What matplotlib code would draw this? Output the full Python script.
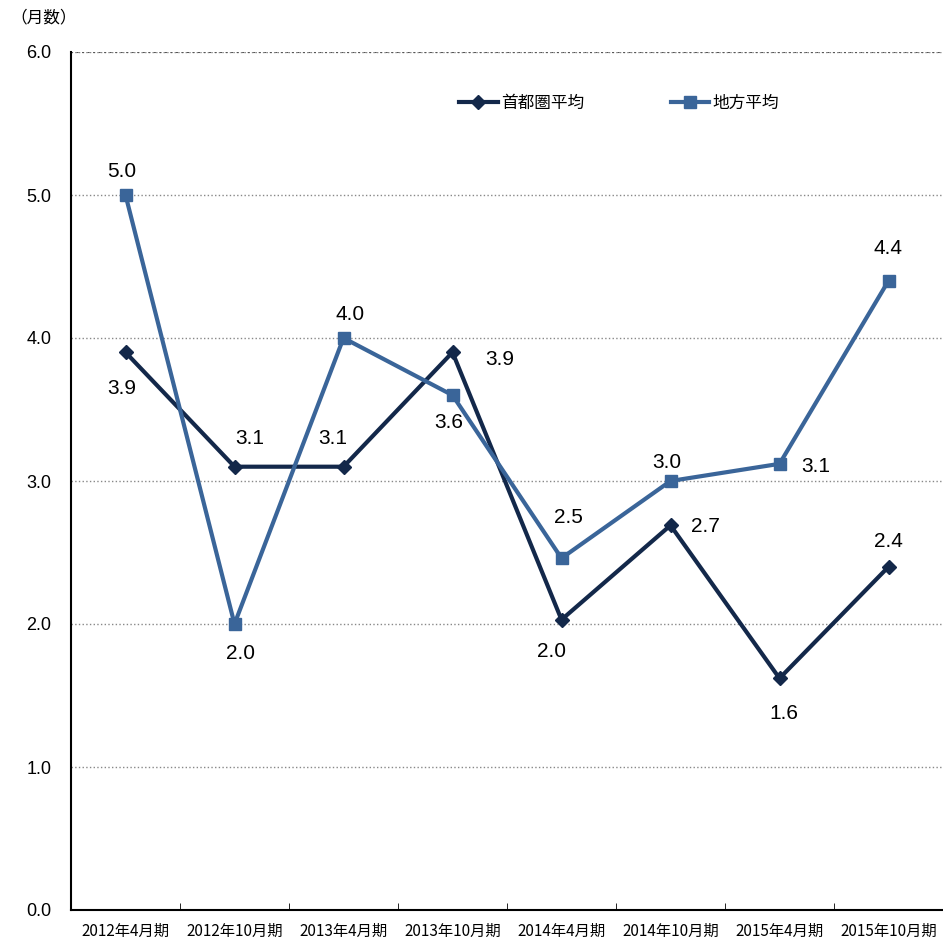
import matplotlib.pyplot as plt
import numpy as np

plt.rcParams['font.family'] = ['Noto Sans CJK JP', 'DejaVu Sans']

periods = ["2012年4月期", "2012年10月期", "2013年4月期", "2013年10月期",
           "2014年4月期", "2014年10月期", "2015年4月期", "2015年10月期"]
shutoken = [3.9, 3.1, 3.1, 3.9, 2.03, 2.69, 1.62, 2.4]
chihou = [5.0, 2.0, 4.0, 3.6, 2.46, 3.0, 3.12, 4.4]
shutoken_labels = ["3.9", "3.1", "3.1", "3.9", "2.0", "2.7", "1.6", "2.4"]
chihou_labels = ["5.0", "2.0", "4.0", "3.6", "2.5", "3.0", "3.1", "4.4"]

# label offsets in points (dx, dy)
shutoken_off = [(-3, -26), (11, 20), (-8, 20), (34, -5), (-7, -23), (25, -1), (3, -25), (0, 18)]
chihou_off = [(-3, 17), (4, -21), (5, 17), (-3, -20), (5, 29), (-3, 13), (26, -2), (0, 23)]

c_shu = "#13284a"
c_chi = "#3a6599"

fig = plt.figure(figsize=(9.43, 9.40), dpi=100)
ax = fig.add_axes([71 / 943, 30 / 940, 872 / 943, 858 / 940])

x = np.arange(len(periods))
ax.plot(x, shutoken, color=c_shu, lw=3, marker="D", ms=7, label="首都圏平均", zorder=3)
ax.plot(x, chihou, color=c_chi, lw=3, marker="s", ms=9, label="地方平均", zorder=3)

for i in range(len(x)):
    ax.annotate(shutoken_labels[i], (x[i], shutoken[i]), xytext=shutoken_off[i],
                textcoords="offset points", ha="center", va="center",
                fontsize=15, family=["Liberation Sans", "DejaVu Sans"])
    ax.annotate(chihou_labels[i], (x[i], chihou[i]), xytext=chihou_off[i],
                textcoords="offset points", ha="center", va="center",
                fontsize=15, family=["Liberation Sans", "DejaVu Sans"])

ax.set_xlim(-0.5, len(periods) - 0.5)
ax.set_ylim(0, 6)
ax.set_yticks(np.arange(0, 6.1, 1.0))
ax.set_yticklabels([f"{v:.1f}" for v in np.arange(0, 6.1, 1.0)],
                   fontsize=13, family=["Liberation Sans", "DejaVu Sans"])
ax.tick_params(axis="y", length=0, pad=14)
ax.set_xticks(x)
ax.set_xticklabels(periods, fontsize=11)
ax.set_xticks(np.arange(0.5, len(periods) - 0.5, 1.0), minor=True)
ax.tick_params(axis="x", which="major", length=0, pad=9)
ax.tick_params(axis="x", which="minor", length=5, direction="in")

ax.grid(axis="y", linestyle=":", color="#888888", lw=1)
ax.spines["right"].set_visible(False)
ax.spines["top"].set_visible(False)
ax.spines["left"].set_linewidth(1.5)
ax.spines["bottom"].set_linewidth(1.5)
ax.axhline(6, color="#555555", lw=1.5, linestyle=":")

ax.legend(loc="center left", bbox_to_anchor=(0.428, 0.94), ncol=2, frameon=False,
          fontsize=12, columnspacing=5.2, handlelength=2.3, handletextpad=0.2)

fig.text(10 / 943, 1 - 18 / 940, "（月数）", fontsize=12, va="center", ha="left")

fig.savefig("out.png", dpi=100)
